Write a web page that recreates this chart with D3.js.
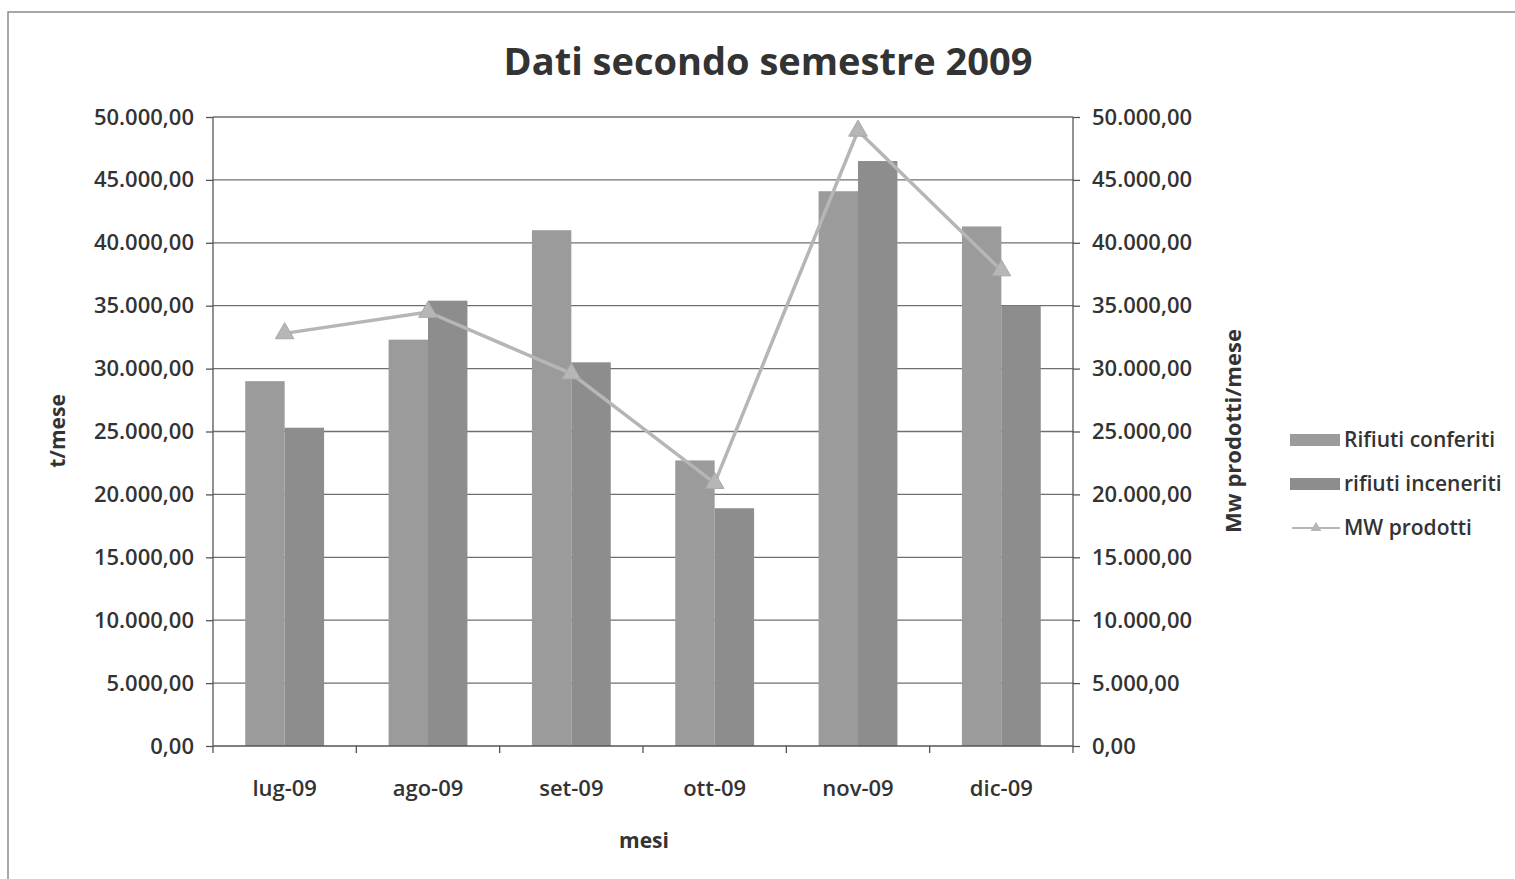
<!DOCTYPE html>
<html lang="it">
<head>
<meta charset="utf-8">
<title>Dati secondo semestre 2009</title>
<script src="https://cdn.jsdelivr.net/npm/d3@7"></script>
<style>
  body { margin: 0; background: #fff; }
  text { font-family: "Open Sans", "DejaVu Sans", sans-serif; fill: #333; }
</style>
</head>
<body>
<svg id="chart" width="1515" height="879"></svg>
<script>
// data
var mesi = ["lug-09", "ago-09", "set-09", "ott-09", "nov-09", "dic-09"];
var rifiutiConferiti = [29000, 32300, 41000, 22700, 44100, 41300];
var rifiutiInceneriti = [25300, 35400, 30500, 18900, 46500, 35000];
var mwProdotti = [32800, 34500, 29600, 20900, 48900, 37800];
var yTicks = [0, 5000, 10000, 15000, 20000, 25000, 30000, 35000, 40000, 45000, 50000];
var seriesNames = ["Rifiuti conferiti", "rifiuti inceneriti", "MW prodotti"];

var barColor = ["#9b9b9b", "#8d8d8d"];
var lineColor = "#b6b6b6";

var svg = d3.select("#chart");
var pLeft = 213, pRight = 1073, pTop = 117, pBottom = 746;

// frame of the scanned chart (top and left edges only)
svg.append("path")
  .attr("d", "M8,879V12H1515")
  .attr("fill", "none").attr("stroke", "#8a8a8a").attr("stroke-width", 1.5);

var x0 = d3.scaleBand().domain(mesi).range([pLeft, pRight]).padding(0);
var x1 = d3.scaleBand().domain([0, 1])
  .range([x0.bandwidth() * 0.225, x0.bandwidth() * 0.775]);
var y = d3.scaleLinear().domain([0, 50000]).range([pBottom, pTop]);

var fmt = function (v) {
  var s = d3.format(",.2f")(v);
  return s.replace(/,/g, "#").replace(".", ",").replace(/#/g, ".");
};

// gridlines
svg.append("g").selectAll("line").data(yTicks.slice(1)).join("line")
  .attr("x1", pLeft).attr("x2", pRight)
  .attr("y1", function (d) { return y(d); }).attr("y2", function (d) { return y(d); })
  .attr("stroke", "#6f6f6f").attr("stroke-width", 1.3);

// bars
var groups = svg.append("g").selectAll("g").data(mesi).join("g")
  .attr("transform", function (d) { return "translate(" + x0(d) + ",0)"; });
groups.selectAll("rect")
  .data(function (d, i) { return [rifiutiConferiti[i], rifiutiInceneriti[i]]; })
  .join("rect")
  .attr("x", function (d, j) { return x1(j); })
  .attr("width", x1.bandwidth())
  .attr("y", function (d) { return y(d); })
  .attr("height", function (d) { return pBottom - y(d); })
  .attr("fill", function (d, j) { return barColor[j]; });

// axes
var axL = svg.append("g").attr("transform", "translate(" + pLeft + ",0)")
  .call(d3.axisLeft(y).tickValues(yTicks).tickFormat(fmt).tickSize(7).tickPadding(12));
var axR = svg.append("g").attr("transform", "translate(" + pRight + ",0)")
  .call(d3.axisRight(y).tickValues(yTicks).tickFormat(fmt).tickSize(7).tickPadding(12));
var axB = svg.append("g").attr("transform", "translate(0," + pBottom + ")")
  .call(d3.axisBottom(x0).tickSize(0).tickPadding(34));
// category boundary ticks
svg.append("g").selectAll("line").data(mesi.concat(["end"])).join("line")
  .attr("x1", function (d, i) { return pLeft + i * x0.bandwidth(); })
  .attr("x2", function (d, i) { return pLeft + i * x0.bandwidth(); })
  .attr("y1", pBottom).attr("y2", pBottom + 7)
  .attr("stroke", "#555").attr("stroke-width", 1.3);

[axL, axR, axB].forEach(function (a) {
  a.selectAll("path.domain").attr("stroke", "#555").attr("stroke-width", 1.3);
  a.selectAll(".tick line").attr("stroke", "#555").attr("stroke-width", 1.3);
  a.selectAll("text").style("font-size", "22px").style("font-weight", 600).attr("fill", "#333");
});
axL.select("path.domain").attr("d", "M0," + pTop + "V" + pBottom);
axR.select("path.domain").attr("d", "M0," + pTop + "V" + pBottom);
axB.select("path.domain").attr("d", "M" + pLeft + ",0H" + pRight);

// line series
var xc = function (i) { return x0(mesi[i]) + x0.bandwidth() / 2; };
var line = d3.line().x(function (d, i) { return xc(i); }).y(function (d) { return y(d); });
svg.append("path").datum(mwProdotti)
  .attr("d", line).attr("fill", "none")
  .attr("stroke", lineColor).attr("stroke-width", 3.5);
var tri = d3.symbol().type(d3.symbolTriangle).size(150);
svg.append("g").selectAll("path").data(mwProdotti).join("path")
  .attr("d", tri)
  .attr("transform", function (d, i) { return "translate(" + xc(i) + "," + y(d) + ")"; })
  .attr("fill", lineColor).attr("stroke", "#a8a8a8");

// titles
svg.append("text").attr("x", 768).attr("y", 75).attr("text-anchor", "middle")
  .style("font-size", "38px").style("font-weight", 700).text("Dati secondo semestre 2009");
svg.append("text").attr("x", 644).attr("y", 848).attr("text-anchor", "middle")
  .style("font-size", "21px").style("font-weight", 700).text("mesi");
svg.append("text").attr("transform", "translate(65,431) rotate(-90)").attr("text-anchor", "middle")
  .style("font-size", "21px").style("font-weight", 700).text("t/mese");
svg.append("text").attr("transform", "translate(1241,431) rotate(-90)").attr("text-anchor", "middle")
  .style("font-size", "22px").style("font-weight", 700).text("Mw prodotti/mese");

// legend
var lg = svg.append("g").attr("transform", "translate(1290,440)");
var items = lg.selectAll("g").data(seriesNames).join("g")
  .attr("transform", function (d, i) { return "translate(0," + i * 44 + ")"; });
items.filter(function (d, i) { return i < 2; }).append("rect")
  .attr("x", 0).attr("y", -6).attr("width", 50).attr("height", 12)
  .attr("fill", function (d, i) { return barColor[i]; });
var li = items.filter(function (d, i) { return i === 2; });
li.append("line").attr("x1", 2).attr("x2", 50).attr("y1", 0).attr("y2", 0)
  .attr("stroke", lineColor).attr("stroke-width", 2);
li.append("path").attr("d", d3.symbol().type(d3.symbolTriangle).size(50))
  .attr("transform", "translate(26,0)").attr("fill", lineColor);
items.append("text").attr("x", 54).attr("y", 7)
  .style("font-size", "21px").style("font-weight", 600).text(function (d) { return d; });
</script>
</body>
</html>
